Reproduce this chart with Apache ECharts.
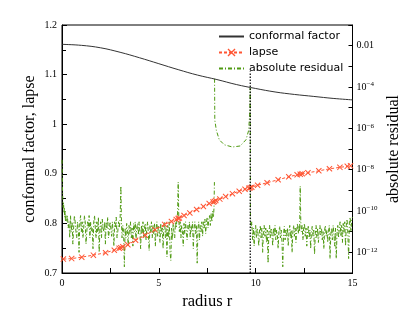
<!DOCTYPE html>
<html><head><meta charset="utf-8">
<script src="https://cdn.jsdelivr.net/npm/echarts@6/dist/echarts.min.js"></script>
<style>html,body{margin:0;padding:0;background:#fff}#c{width:415px;height:311px}</style>
</head><body><div id="c"></div>
<script>
// ---- data ----
const legendNames = ['conformal factor', 'lapse', 'absolute residual'];
const axisTitles = { x: 'radius r', left: 'conformal factor, lapse', right: 'absolute residual' };

const conformalR = [0,1,2,3,4,5,6,7,8,9,10,11,12,13,14,15];
const conformal  = [1.161,1.159,1.154,1.145,1.134,1.122,1.110,1.099,1.090,1.080,1.072,1.065,1.060,1.056,1.052,1.049];

const lapseR = [0.07,0.5,1.02,1.62,2.25,2.7,2.95,3.04,3.14,3.4,3.8,4.3,4.8,5.3,5.65,5.9,6.0,6.06,6.3,6.6,6.95,7.3,7.6,7.8,7.87,7.94,8.15,8.45,8.8,9.15,9.45,9.65,9.72,9.8,10.1,10.59,11.16,11.71,12.14,12.3,12.4,12.7,13.26,13.81,14.35,14.73,14.9];
const lapse  = [0.728,0.729,0.732,0.736,0.741,0.746,0.750,0.751,0.753,0.757,0.766,0.776,0.787,0.798,0.804,0.808,0.810,0.811,0.816,0.821,0.828,0.834,0.840,0.843,0.844,0.846,0.849,0.854,0.860,0.865,0.869,0.871,0.872,0.873,0.877,0.882,0.888,0.894,0.898,0.899,0.900,0.902,0.906,0.910,0.913,0.915,0.916];

const residual = [
[0,3e-8],[0.02,2e-9],[0.04,4e-10],[0.06,1.5e-10],[0.08,2.5e-10],[0.1,8e-11],[0.12,1.5e-10],[0.14,5e-11],[0.16,1e-10],[0.18,3e-11],[0.2,6e-11],
[0.24,3e-11],[0.28,6e-11],[0.32,1.5e-11],[0.36,3e-11],[0.4,5e-12],[0.44,6e-11],[0.48,1e-11],[0.52,3e-11],[0.56,2.5e-12],[0.6,1.5e-11],
[0.64,6e-11],[0.68,3e-11],[0.72,1e-11],[0.76,5e-12],[0.8,3e-11],[0.84,1.5e-11],[0.88,1e-12],[0.92,3e-11],[0.96,6e-11],[1.0,1e-11],
[1.04,3e-11],[1.08,5e-12],[1.12,1.5e-11],[1.16,6e-11],[1.2,3e-11],[1.24,2.5e-12],[1.28,1e-11],[1.32,3e-11],[1.36,1.5e-11],[1.4,6e-11],
[1.44,5e-12],[1.48,3e-11],[1.52,1e-11],[1.56,1.5e-11],[1.6,1.5e-12],[1.64,3e-11],[1.68,6e-11],[1.72,1.5e-11],[1.76,5e-12],[1.8,3e-11],
[1.84,1e-11],[1.88,5e-11],[1.92,1e-12],[1.96,1.5e-11],[2.0,3e-11],[2.04,5e-12],[2.08,4e-11],[2.12,1.5e-11],[2.16,1e-11],[2.2,3e-11],
[2.24,2.5e-12],[2.28,3e-11],[2.32,1.5e-11],[2.36,5e-11],[2.4,5e-12],[2.44,1e-11],[2.48,3e-11],[2.52,1.5e-11],[2.56,6e-12],[2.6,3e-11],
[2.64,1e-11],[2.68,2e-12],[2.72,3e-11],[2.76,1.5e-11],[2.8,5e-11],[2.84,5e-12],[2.88,1e-11],[2.92,3e-11],[2.96,1.5e-11],[3.0,4e-11],
[3.04,1.6e-9],[3.07,3e-11],[3.1,5e-12],[3.14,2e-11],[3.18,1e-11],[3.22,2e-13],[3.26,1.5e-11],[3.3,5e-12],[3.34,2.5e-11],[3.38,1e-11],
[3.42,2e-12],[3.46,2e-11],[3.5,8e-12],[3.54,3e-11],[3.58,5e-12],[3.62,1.5e-11],[3.66,2e-12],[3.7,2.5e-11],[3.74,1e-11],[3.78,3e-11],
[3.82,4e-12],[3.86,1.5e-11],[3.9,2.5e-11],[3.94,7e-12],[3.98,3e-11],[4.02,1e-11],[4.06,1.5e-12],[4.1,2e-11],[4.14,8e-12],[4.18,3e-11],
[4.22,5e-12],[4.26,1.5e-11],[4.3,2.5e-11],[4.34,4e-12],[4.38,1.5e-11],[4.42,3e-11],[4.46,8e-12],[4.5,1.2e-12],[4.54,2e-11],[4.58,1e-11],
[4.62,3e-11],[4.66,5e-12],[4.7,2e-11],[4.74,8e-12],[4.78,2.5e-11],[4.82,2e-12],[4.86,1.5e-11],[4.9,3e-11],[4.94,6e-12],[4.98,2e-11],
[5.02,1e-11],[5.06,3e-12],[5.1,2.5e-11],[5.14,8e-12],[5.18,1.5e-11],[5.22,1.5e-12],[5.26,2e-11],[5.3,3e-11],[5.34,5e-12],[5.38,1.5e-11],
[5.42,6e-13],[5.46,2e-11],[5.5,5e-12],[5.54,3e-11],[5.58,1e-12],[5.62,4e-13],[5.66,1.5e-11],[5.7,4e-12],[5.74,2.5e-11],[5.78,1e-11],
[5.82,5e-12],[5.86,3e-11],[5.9,1.5e-11],[5.94,5e-11],[5.97,8e-11],[6.0,2.5e-9],[6.03,5e-11],[6.06,1e-11],[6.1,3e-11],[6.14,5e-12],
[6.18,2e-11],[6.22,1e-11],[6.26,2e-12],[6.3,2.5e-11],[6.34,8e-12],[6.38,3e-11],[6.42,1e-11],[6.46,4e-12],[6.5,2e-11],[6.54,1.2e-11],
[6.58,3e-11],[6.62,5e-12],[6.66,2e-11],[6.7,1e-11],[6.74,3e-11],[6.78,1.5e-12],[6.82,1.5e-11],[6.86,3e-11],[6.9,8e-12],[6.94,2e-11],
[6.98,3e-13],[7.02,1.5e-11],[7.06,3e-11],[7.1,4e-12],[7.14,2e-11],[7.18,1e-11],[7.22,3e-11],[7.26,6e-12],[7.3,3e-11],[7.34,1.5e-11],
[7.38,4e-11],[7.42,8e-12],[7.46,3e-11],[7.5,5e-11],[7.54,1.5e-11],[7.58,4e-11],[7.62,6e-11],[7.66,2e-11],[7.7,8e-11],[7.74,3e-11],
[7.78,1e-10],[7.82,5e-11],[7.85,1.5e-10],[7.87,2.5e-9],[7.875,'-'],
[7.878,2.5e-4],[7.89,2.5e-6],[7.97,8e-7],[8.12,2.8e-7],[8.38,1.6e-7],[8.8,1.25e-7],[9.2,1.4e-7],[9.5,2.8e-7],[9.64,8e-7],[9.7,7e-6],[9.72,9e-5],
[9.73,6e-11],[9.76,1.5e-11],[9.8,3e-11],[9.84,4e-12],[9.88,1.5e-11],[9.92,2e-12],[9.96,1e-11],[10.0,2e-11],[10.04,5e-12],[10.08,1.5e-11],
[10.12,8e-12],[10.16,2e-12],[10.2,1.2e-11],[10.24,2e-11],[10.28,5e-12],[10.32,1.5e-11],[10.36,1e-12],[10.4,1e-11],[10.44,2e-11],[10.48,6e-12],
[10.52,1.5e-11],[10.56,3e-12],[10.6,1.2e-11],[10.64,3e-13],[10.68,8e-12],[10.72,2e-11],[10.76,5e-12],[10.8,1.5e-11],[10.84,8e-12],[10.88,2e-12],
[10.92,1.5e-11],[10.96,6e-12],[11.0,2e-11],[11.04,4e-12],[11.08,1.2e-11],[11.12,7e-12],[11.16,1.5e-12],[11.2,1e-11],[11.24,1.8e-11],[11.28,5e-12],
[11.32,1.2e-11],[11.36,3e-12],[11.4,2e-13],[11.44,8e-12],[11.48,1.8e-11],[11.52,4e-12],[11.56,1.2e-11],[11.6,6e-12],[11.64,1.5e-11],[11.68,2e-12],
[11.72,1e-11],[11.76,2e-11],[11.8,5e-12],[11.84,1.2e-11],[11.88,1e-12],[11.92,1e-11],[11.96,2e-11],[12.0,6e-12],[12.04,1.5e-11],[12.08,3e-12],
[12.12,1.2e-11],[12.16,2.5e-11],[12.2,8e-12],[12.24,2e-11],[12.27,1e-11],[12.3,1.6e-9],[12.33,3e-11],[12.36,1e-11],[12.4,2e-11],[12.44,4e-12],
[12.48,1.5e-11],[12.52,2.5e-11],[12.56,6e-12],[12.6,1.5e-11],[12.64,2e-12],[12.68,1e-11],[12.72,2e-11],[12.76,5e-12],[12.8,1.2e-11],[12.84,1.5e-12],
[12.88,1e-11],[12.92,1.8e-11],[12.96,6e-12],[13.0,1.2e-11],[13.04,8e-13],[13.08,8e-12],[13.12,2e-11],[13.16,5e-12],[13.2,1.5e-11],[13.24,3e-12],
[13.28,1e-11],[13.32,2e-11],[13.36,7e-12],[13.4,1.5e-11],[13.44,4e-12],[13.48,1e-11],[13.52,1.5e-12],[13.56,1.2e-11],[13.6,2e-11],[13.64,6e-12],
[13.68,1.2e-11],[13.72,3e-12],[13.76,1e-11],[13.8,2e-11],[13.84,5e-13],[13.88,8e-12],[13.92,1.5e-11],[13.96,4e-12],[14.0,2e-11],[14.04,8e-12],
[14.08,2e-12],[14.12,1.5e-11],[14.16,5e-13],[14.2,8e-12],[14.24,2e-11],[14.28,5e-12],[14.32,1.5e-11],[14.36,3e-11],[14.4,6e-12],[14.44,2e-11],
[14.48,3e-12],[14.52,2.5e-11],[14.56,1e-11],[14.6,3e-11],[14.64,2e-12],[14.68,2e-11],[14.72,4e-11],[14.76,8e-12],[14.8,5e-13],[14.84,3e-11],
[14.88,5e-11],[14.92,1e-11],[14.96,4e-11],[15.0,5e-11]
];

const dottedR = 9.72;
const dottedRange = [0.7, 1.106];

const xTickValues = [0, 5, 10, 15];
const leftTickValues = [0.7, 0.8, 0.9, 1, 1.1, 1.2];
const rightTickExponents = [-2, -4, -6, -8, -10, -12];

// ---- chart ----
const serif = 'Liberation Serif';
const red = '#ff5533';
const green = '#4f9a12';
const clear = 'rgba(0,0,0,0)';
const crossPath = 'path://M0,1.2L1.2,0L10,8.8L8.8,10Z M8.8,0L10,1.2L1.2,10L0,8.8Z';

const chart = echarts.init(document.getElementById('c'), null, { renderer: 'canvas' });
chart.setOption({
  animation: false,
  backgroundColor: '#fff',
  grid: { left: 62, right: 62.5, top: 25, bottom: 38, containLabel: false, outerBoundsMode: 'none',
    show: true, borderColor: '#000', borderWidth: 1, backgroundColor: 'transparent' },
  legend: {
    data: legendNames, orient: 'vertical', left: 213, top: 25, padding: 5,
    itemWidth: 25, itemHeight: 10, itemGap: 3, selectedMode: false,
    textStyle: { fontFamily: 'DejaVu Sans', fontSize: 11, color: '#000', lineHeight: 13 }
  },
  xAxis: {
    type: 'value', min: 0, max: 15, interval: 5,
    name: axisTitles.x, nameLocation: 'middle', nameGap: 20, nameMoveOverlap: false,
    nameTextStyle: { fontFamily: serif, fontSize: 16.5, color: '#000' },
    axisLine: { onZero: false, lineStyle: { color: '#000', width: 1 } },
    axisTick: { inside: true, length: 5, lineStyle: { color: '#000' } },
    minorTick: { show: true, splitNumber: 2, length: 5, lineStyle: { color: '#000' } },
    axisLabel: { fontFamily: serif, fontSize: 10, color: '#000', margin: 5,
      formatter: v => (xTickValues.includes(v) ? String(v) : '') },
    splitLine: { show: false }
  },
  yAxis: [{
    type: 'value', min: 0.7, max: 1.2, interval: 0.1, position: 'left',
    name: axisTitles.left, nameLocation: 'middle', nameGap: 24, nameRotate: 90, nameMoveOverlap: false,
    nameTextStyle: { fontFamily: serif, fontSize: 16, color: '#000' },
    axisLine: { lineStyle: { color: '#000', width: 1 } },
    axisTick: { inside: true, length: 5, lineStyle: { color: '#000' } },
    minorTick: { show: true, splitNumber: 2, length: 4, lineStyle: { color: '#000' } },
    axisLabel: { fontFamily: serif, fontSize: 10, color: '#000', margin: 5,
      formatter: v => { const r = Math.round(v * 10) / 10; return leftTickValues.includes(r) ? String(r) : ''; } },
    splitLine: { show: false }
  }, {
    type: 'log', logBase: 10, min: 1e-13, max: 1e-1, interval: 1, position: 'right',
    name: axisTitles.right, nameLocation: 'middle', nameGap: 33, nameRotate: 90, nameMoveOverlap: false,
    nameTextStyle: { fontFamily: serif, fontSize: 16, color: '#000' },
    axisLine: { lineStyle: { color: '#000', width: 1 } },
    axisTick: { inside: true, length: 4, lineStyle: { color: '#000' } },
    axisLabel: { fontFamily: serif, fontSize: 10, color: '#000', margin: 4,
      formatter: v => {
        const e = Math.round(Math.log10(v));
        if (!rightTickExponents.includes(e)) return '';
        if (e === -2) return '0.01';
        return '10{s|\u2212' + (-e) + '}';
      },
      rich: { s: { fontFamily: serif, fontSize: 7, color: '#000', verticalAlign: 'bottom', padding: [0, 0, 5, 0] } }
    },
    splitLine: { show: false }
  }],
  series: [
    {
      name: legendNames[2], type: 'line', yAxisIndex: 1,
      data: residual, showSymbol: false, symbol: 'circle', connectNulls: false,
      lineStyle: { color: green, width: 1, type: [4, 2, 1, 2] }, itemStyle: { color: clear, borderWidth: 0 }, z: 2
    },
    {
      name: legendNames[0], type: 'line', yAxisIndex: 0,
      data: conformalR.map((r, i) => [r, conformal[i]]), showSymbol: false, symbol: 'circle', smooth: 0.4,
      lineStyle: { color: '#333', width: 1 }, itemStyle: { color: clear, borderWidth: 0 }, z: 3
    },
    {
      name: legendNames[1], type: 'line', yAxisIndex: 0,
      data: lapseR.map((r, i) => [r, lapse[i]]), symbol: crossPath, symbolSize: 6, showAllSymbol: true,
      lineStyle: { color: red, width: 1, type: [3, 2] }, itemStyle: { color: red }, z: 4
    },
    {
      type: 'line', yAxisIndex: 0, silent: true,
      data: [[dottedR, dottedRange[0]], [dottedR, dottedRange[1]]], symbol: 'none',
      lineStyle: { color: '#000', width: 1.2, type: [1.5, 1.5] }, z: 5
    }
  ]
});
</script>
</body></html>
